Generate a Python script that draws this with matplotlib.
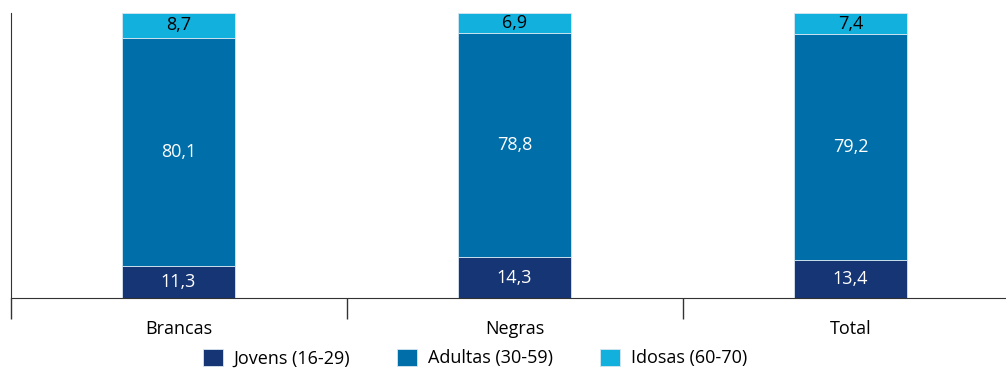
import matplotlib.pyplot as plt
import numpy as np

plt.rcParams['font.family'] = ['Open Sans', 'DejaVu Sans']

categories = ["Brancas", "Negras", "Total"]
jovens = [11.3, 14.3, 13.4]
adultas = [80.1, 78.8, 79.2]
idosas = [8.7, 6.9, 7.4]

series = [
    ("Jovens (16-29)", jovens, "#163574", "white"),
    ("Adultas (30-59)", adultas, "#006ea9", "white"),
    ("Idosas (60-70)", idosas, "#12b0dd", "black"),
]

fig = plt.figure(figsize=(10.06, 3.73), dpi=100)
ax = fig.add_axes([10.5 / 1006, 1 - 298 / 373, 1008 / 1006, 285 / 373])

x = np.arange(len(categories))
bottom = np.zeros(len(categories))
handles = []
for label, vals, color, tcolor in series:
    vals = np.array(vals)
    bars = ax.bar(x, vals, width=0.337, bottom=bottom, color=color,
                  edgecolor="#d8e6f0", linewidth=0.6, label=label)
    handles.append(bars)
    for xi, b, v in zip(x, bottom, vals):
        ax.text(xi, b + v / 2, f"{v:.1f}".replace(".", ","), ha="center",
                va="center", color=tcolor, fontsize=13)
    bottom += vals

ax.set_xlim(-0.5, 2.5)
ax.set_ylim(0, 100.1)
ax.spines["top"].set_visible(False)
ax.spines["right"].set_visible(False)
ax.spines["left"].set_color("#333333")
ax.spines["bottom"].set_color("#333333")
ax.set_yticks([])
ax.set_xticks(x)
ax.set_xticklabels(categories, fontsize=13)
ax.tick_params(axis="x", length=0, pad=16)
ax.set_xticks([-0.5, 0.5, 1.5], minor=True)
ax.tick_params(axis="x", which="minor", length=15, color="#333333", width=1)

fig.legend(handles=handles, loc="center", bbox_to_anchor=(475 / 1006, 1 - 358 / 373),
           ncol=3, frameon=False, fontsize=13, handlelength=1.1,
           handleheight=1.1, columnspacing=2.6, handletextpad=0.6)

fig.savefig("out.png", dpi=100)
